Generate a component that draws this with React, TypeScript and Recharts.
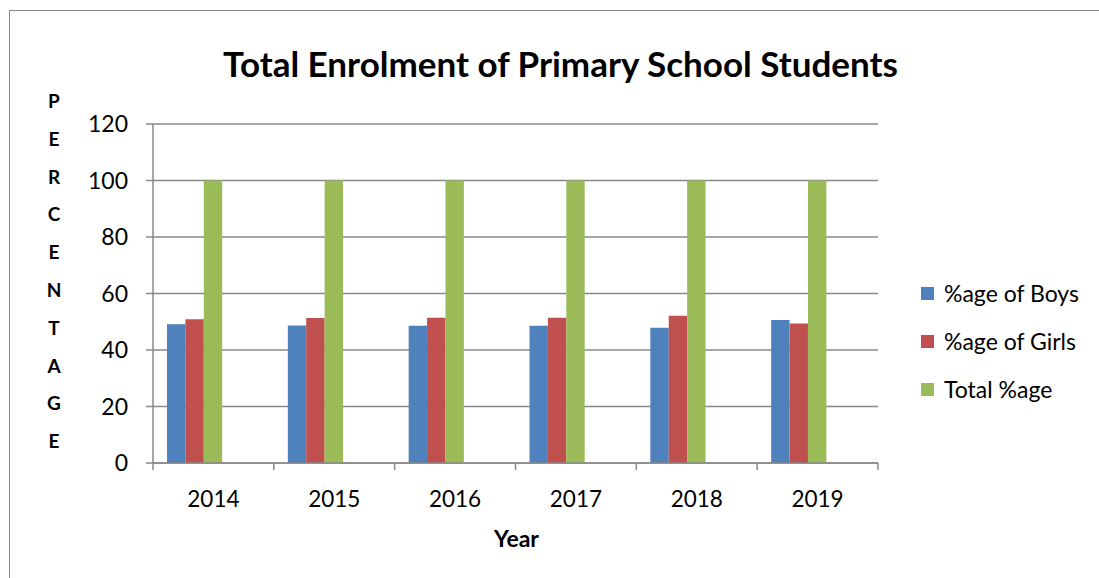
import React from 'react';
import { BarChart, Bar, XAxis, YAxis, CartesianGrid, Legend, Label } from 'recharts';

const years = ['2014', '2015', '2016', '2017', '2018', '2019'];
const boys = [49.1, 48.7, 48.6, 48.6, 47.9, 50.6];
const girls = [50.9, 51.3, 51.4, 51.4, 52.1, 49.4];
const total = [100, 100, 100, 100, 100, 100];
const yTicks = [0, 20, 40, 60, 80, 100, 120];
const seriesNames = ['%age of Boys', '%age of Girls', 'Total %age'];
const seriesColors = ['#4F81BD', '#C0504D', '#9BBB59'];
const title = 'Total Enrolment of Primary School Students';
const yLabel = 'PERCENTAGE';
const xLabel = 'Year';

const data = years.map((y, i) => ({ year: y, boys: boys[i], girls: girls[i], total: total[i] }));

const FONT = 'Lato, Carlito, "Open Sans", sans-serif';
const GRID = '#888888';

const XTick = (props: any) => {
  const { x, y, payload, index, visibleTicksCount } = props;
  const half = payload && typeof payload.offset === 'number' && payload.offset > 0 ? payload.offset : 60.5;
  const last = index === (visibleTicksCount ?? 6) - 1;
  return (
    <g>
      <line x1={x - half} x2={x - half} y1={y} y2={y + 7} stroke={GRID} strokeWidth={1.5} />
      {last && <line x1={x + half} x2={x + half} y1={y} y2={y + 7} stroke={GRID} strokeWidth={1.5} />}
      <text x={x} y={y + 44} textAnchor="middle" fontSize={22.5} fill="#000" fontFamily={FONT}>
        {payload.value}
      </text>
    </g>
  );
};

const XLabel = (props: any) => {
  const vb = props.viewBox || { x: 153, y: 463, width: 725, height: 115 };
  return (
    <text
      x={vb.x + vb.width / 2 + 1}
      y={vb.y + 84}
      textAnchor="middle"
      fontSize={23}
      fontWeight="bold"
      fontFamily={FONT}
      fill="#000"
    >
      {xLabel}
    </text>
  );
};

const YLabel = (props: any) => {
  const vb = props.viewBox || { x: 0, y: 124, width: 153, height: 339 };
  const cy = vb.y + vb.height / 2 - 23;
  const letters = yLabel.split('');
  return (
    <g>
      {letters.map((ch, i) => (
        <text
          key={i}
          x={54}
          y={cy + (i - (letters.length - 1) / 2) * 37.8}
          textAnchor="middle"
          dominantBaseline="central"
          fontSize={19}
          fontWeight="bold"
          fontFamily={FONT}
          fill="#000"
        >
          {ch}
        </text>
      ))}
    </g>
  );
};

const LegendContent = () => (
  <div style={{ fontFamily: FONT, fontSize: 23, color: '#000' }}>
    {seriesNames.map((n, i) => (
      <div key={n} style={{ display: 'flex', alignItems: 'center', height: 48 }}>
        <span style={{ display: 'inline-block', width: 13, height: 13, background: seriesColors[i], marginRight: 10 }} />
        <span>{n}</span>
      </div>
    ))}
  </div>
);

export default function App() {
  return (
    <div style={{ position: 'absolute', left: 0, top: 0, width: 1099, height: 578, background: '#fff', overflow: 'hidden' }}>
      <div
        style={{
          position: 'absolute',
          left: 9,
          top: 10,
          width: 1200,
          height: 700,
          borderLeft: '1.5px solid #8a8a8a',
          borderTop: '1.5px solid #8a8a8a',
        }}
      />
      <div
        style={{
          position: 'absolute',
          left: 0,
          top: 41.5,
          width: 1121,
          textAlign: 'center',
          fontFamily: FONT,
          fontWeight: 'bold',
          fontSize: 35,
          lineHeight: 'normal',
          color: '#000',
          whiteSpace: 'nowrap',
        }}
      >
        {title}
      </div>
      <div style={{ position: 'absolute', left: 0, top: 0 }}>
        <BarChart
          width={1099}
          height={578}
          data={data}
          margin={{ top: 124, right: 31, bottom: 0, left: 0 }}
          barCategoryGap="12%"
          barGap={0}
          barSize={18.4}
        >
          <CartesianGrid vertical={false} stroke={GRID} strokeWidth={1.5} />
          <XAxis
            dataKey="year"
            tickLine={false}
            tickSize={0}
            tickMargin={0}
            axisLine={{ stroke: GRID, strokeWidth: 1.5 }}
            tick={<XTick />}
            interval={0}
            height={115}
          >
            <Label content={<XLabel />} />
          </XAxis>
          <YAxis
            width={153}
            domain={[0, 120]}
            ticks={yTicks}
            interval={0}
            tickSize={7}
            tickMargin={18}
            tickLine={{ stroke: GRID, strokeWidth: 1.5 }}
            axisLine={{ stroke: GRID, strokeWidth: 1.5 }}
            tick={{ fontFamily: FONT, fontSize: 23, fill: '#000' }}
          >
            <Label content={<YLabel />} />
          </YAxis>
          <Legend
            layout="vertical"
            align="right"
            verticalAlign="middle"
            width={190}
            content={<LegendContent />}
            wrapperStyle={{ position: 'absolute', left: 921, top: 269, width: 190 }}
          />
          <Bar dataKey="boys" name={seriesNames[0]} fill={seriesColors[0]} isAnimationActive={false} />
          <Bar dataKey="girls" name={seriesNames[1]} fill={seriesColors[1]} isAnimationActive={false} />
          <Bar dataKey="total" name={seriesNames[2]} fill={seriesColors[2]} isAnimationActive={false} />
          <Bar dataKey="pad1" legendType="none" fill="none" isAnimationActive={false} />
          <Bar dataKey="pad2" legendType="none" fill="none" isAnimationActive={false} />
        </BarChart>
      </div>
    </div>
  );
}
